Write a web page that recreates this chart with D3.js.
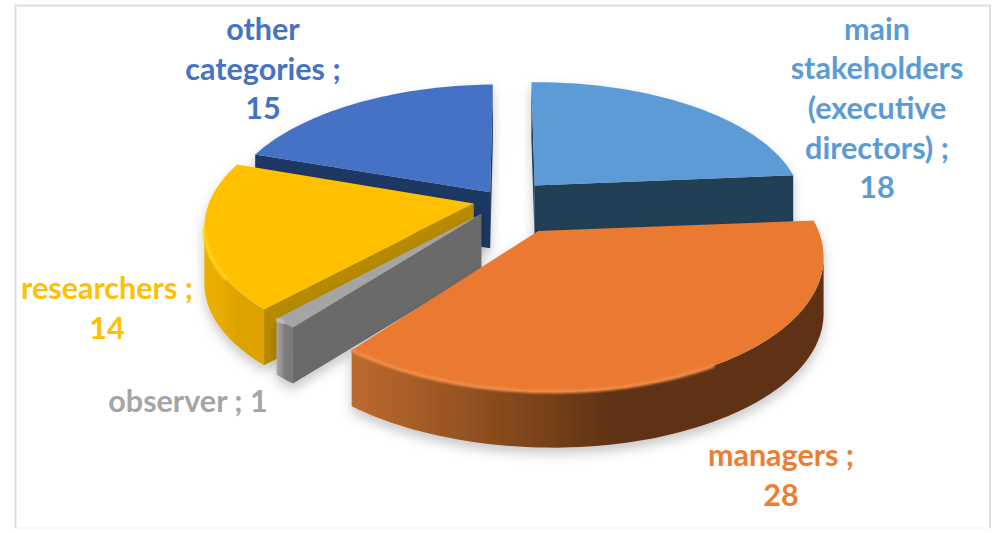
<!DOCTYPE html>
<html>
<head>
<meta charset="utf-8">
<style>
html,body{margin:0;padding:0;background:#fff;}
svg{display:block;}
text{font-family:Lato,"Open Sans",sans-serif;font-weight:700;}
</style>
<script src="https://cdn.jsdelivr.net/npm/d3@7"></script>
</head>
<body>
<svg id="chart" width="995" height="533"></svg>
<script>
// Participants by role
const categories = ["main stakeholders (executive directors)", "managers", "observer", "researchers", "other categories"];
const values = [18, 28, 1, 14, 15];
const labelLines = [
  ["main", "stakeholders", "(executive", "directors) ;", "18"],
  ["managers ;", "28"],
  ["observer ; 1"],
  ["researchers ;", "14"],
  ["other", "categories ;", "15"]
];
const topColors = ["#5b9bd5", "#ea7a30", "#a5a5a5", "#ffc000", "#4472c4"];
const cutColors = ["#243f55", "#a85a24", "#6b6b6b", "#b88a00", "#1f3864"];
const wallStops = [
  ["#2f5f8a", "#2f5f8a", "#2f5f8a"],
  ["#bd6a2e", "#8a4c1e", "#5f3313"],
  ["#a8a8a8", "#8f8f8f", "#7a7a7a"],
  ["#ecb000", "#e6ab00", "#dca300"],
  ["#203864", "#203864", "#203864"]
];
const rimColors = ["#5b9bd5", "#f08c48", "#c4c4c4", "#ffd21f", "#4472c4"];
const labelColors = ["#5b9bd5", "#ed7d31", "#a5a5a5", "#ffc000", "#4472c4"];

// How far each wedge is pulled out on the pie plane, and its radial reach
const pullX = [25, 27, -28, -36, -20];
const pullY = [-25, 69, 35, 14, -10];
const reach = [0.965, 0.97, 0.97, 1, 1];
const labelX = [877, 781, 188, 107, 263];
const labelY = [39.5, 466, 412, 299, 40];
const lineStep = 39.7;

const width = 995, height = 533;
const cx = 510, cy = 197, radius = 270, depth = 56;
const tilt = 0.47, persp = 0.0006, skew = 0.00008;
const svg = d3.select("#chart");

const defs = svg.append("defs");
const shadow = defs.append("filter").attr("id", "soft").attr("x", "-10%").attr("y", "-10%").attr("width", "120%").attr("height", "125%");
shadow.append("feDropShadow").attr("dx", 0).attr("dy", 6).attr("stdDeviation", 6).attr("flood-color", "#000").attr("flood-opacity", 0.22);
defs.append("filter").attr("id", "bevel").append("feGaussianBlur").attr("stdDeviation", 1.2);

// Frame around the chart area
svg.append("path").attr("d", "M15.5,528V5.5H990V528").attr("fill", "none").attr("stroke", "#dedede").attr("stroke-width", 2);
svg.append("path").attr("d", "M15,528H990").attr("fill", "none").attr("stroke", "#f1f1f1").attr("stroke-width", 1);

const pie = d3.pie().sort(null).startAngle(0).endAngle(2 * Math.PI);
const arcs = pie(values);

// Perspective projection on the pie plane; y runs forward, z is the drop below the top face
function project(x, y, z) {
  const s = 1 / (1 - y * persp - x * skew);
  return [cx + x * s, cy + y * tilt * s - z];
}
const line = d3.line();
const closed = pts => line(pts) + "Z";
const area = pts => d3.polygonArea(pts);

const drawOrder = [4, 0, 3, 2, 1];
drawOrder.forEach(i => {
  const a = arcs[i];
  const ox = pullX[i], oy = pullY[i], r = radius * reach[i];
  const rim = (t, z) => project(ox + r * Math.sin(t), oy - r * Math.cos(t), z);
  const apex = z => project(ox, oy, z);
  const g = svg.append("g").attr("filter", "url(#soft)");

  // Cut faces, keeping only those turned towards the viewer
  [[rim(a.startAngle, 0), apex(0), apex(-depth), rim(a.startAngle, -depth)],
   [apex(0), rim(a.endAngle, 0), rim(a.endAngle, -depth), apex(-depth)]]
    .forEach(q => {
      if (area(q) < 0) g.append("path").attr("d", closed(q)).attr("fill", cutColors[i]);
    });

  // Outer wall: the stretch of the arc that faces the viewer, as one shaded shape
  const steps = Math.max(4, Math.ceil((a.endAngle - a.startAngle) * 40));
  const angle = d3.scaleLinear().domain([0, steps]).range([a.startAngle, a.endAngle]);
  const upper = [], lower = [];
  d3.range(steps).forEach(k => {
    const t0 = angle(k), t1 = angle(k + 1);
    const q = [rim(t0, 0), rim(t1, 0), rim(t1, -depth), rim(t0, -depth)];
    if (area(q) > 0) {
      if (!upper.length) { upper.push(rim(t0, 0)); lower.push(rim(t0, -depth)); }
      upper.push(rim(t1, 0));
      lower.push(rim(t1, -depth));
    }
  });
  if (upper.length) {
    const wall = upper.concat(lower.slice().reverse());
    const [x0, x1] = d3.extent(wall, p => p[0]);
    const grad = defs.append("linearGradient").attr("id", "wall" + i)
      .attr("gradientUnits", "userSpaceOnUse")
      .attr("x1", x1).attr("x2", x0).attr("y1", 0).attr("y2", 0);
    wallStops[i].slice().reverse().forEach((c, j) => {
      grad.append("stop").attr("offset", [0.45, 0.7, 1][j]).attr("stop-color", c);
    });
    g.append("path").attr("d", closed(wall)).attr("fill", "url(#wall" + i + ")");
  }

  // Top surface
  const top = [apex(0)].concat(d3.range(steps + 1).map(k => rim(angle(k), 0)));
  g.append("path").attr("d", closed(top)).attr("fill", topColors[i]);

  // Soft highlight along the lit part of the rim
  if (upper.length > 3) {
    g.append("path").attr("d", line(upper.slice(Math.floor(upper.length * 0.4)))).attr("fill", "none")
      .attr("stroke", rimColors[i]).attr("stroke-width", 3.5).attr("filter", "url(#bevel)");
  }
});

// Labels
categories.forEach((name, i) => {
  const t = svg.append("text").attr("fill", labelColors[i]).attr("font-size", 30.5).attr("text-anchor", "middle");
  labelLines[i].forEach((s, j) => {
    t.append("tspan").attr("x", labelX[i]).attr("y", labelY[i] + j * lineStep).text(s);
  });
});
</script>
</body>
</html>
